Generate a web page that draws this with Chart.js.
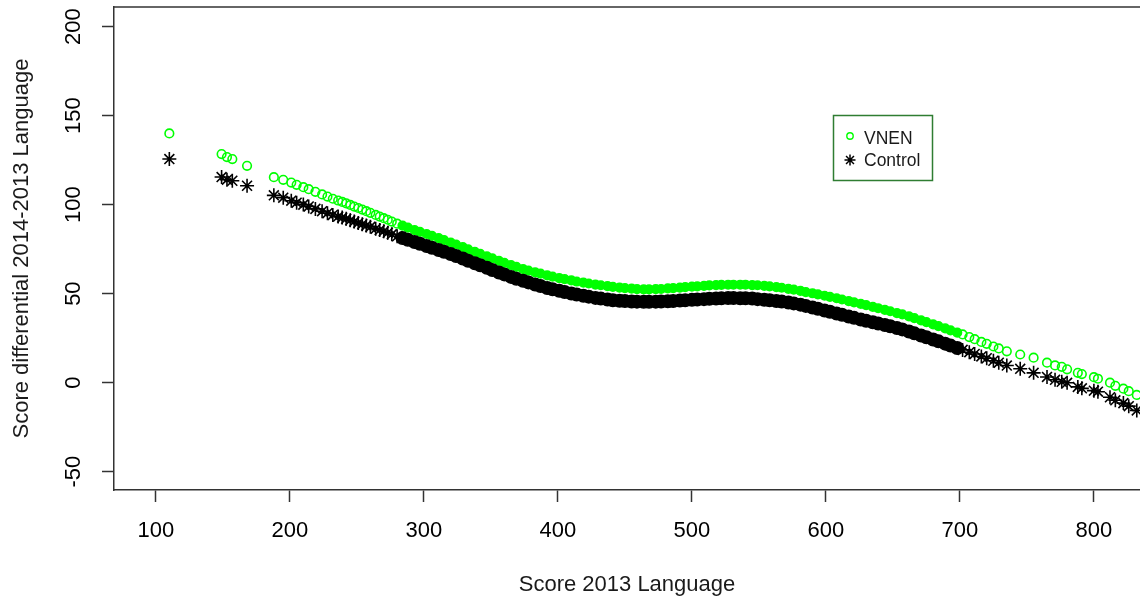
<!DOCTYPE html>
<html>
<head>
<meta charset="utf-8">
<script src="https://cdn.jsdelivr.net/npm/chart.js"></script>
<style>
  html, body { margin: 0; padding: 0; background: #fff; }
  #wrap { width: 1140px; height: 601px; }
</style>
</head>
<body>
<div id="wrap"><canvas id="graph1" width="1140" height="601"></canvas></div>
<script>
// Score 2013 (language) of each student, and the predicted 2014-2013 differential per group
var scores = [110, 149, 153, 157, 168, 188, 195, 201, 205, 210, 214, 219, 224, 228, 232, 236, 239, 242, 245, 248,
  251, 254, 257, 260, 264, 267, 270, 273, 276, 280,
  284, 288, 293, 297, 302, 306, 311, 315, 320, 324, 329, 333, 338, 342, 347, 351, 356, 360, 365, 369,
  374, 378, 383, 387, 392, 396, 401, 405, 410, 414, 419, 423, 428, 432, 437, 441, 446, 450, 455, 459,
  464, 468, 473, 477, 482, 486, 491, 495, 500, 504, 509, 513, 518, 522, 527, 531, 536, 540, 545, 549,
  554, 558, 563, 567, 572, 576, 581, 585, 590, 594, 599, 603, 608, 612, 617, 621, 626, 630, 635, 639,
  644, 648, 653, 657, 662, 666, 671, 675, 680, 684, 689, 693, 698, 702, 707, 711, 716, 720, 725, 729,
  735, 745, 755, 765, 771, 776, 780, 788, 791, 800, 803, 812, 816, 822, 826, 832];

var vnen = [140.0, 128.4, 126.7, 125.6, 121.8, 115.4, 113.9, 112.4, 111.1, 109.8, 108.7, 107.2, 105.7, 104.5, 103.3, 102.3, 101.5, 100.7, 99.8, 98.9,
  98.1, 97.2, 96.3, 95.4, 94.2, 93.3, 92.4, 91.5, 90.5, 89.3,
  88.2, 87.1, 85.7, 84.7, 83.5, 82.4, 81.2, 80.1, 78.7, 77.6, 76.1, 74.9, 73.5, 72.3, 70.9, 69.8, 68.4, 67.3, 66.0, 65.0,
  63.8, 62.9, 61.9, 61.2, 60.2, 59.5, 58.7, 58.1, 57.4, 56.8, 56.2, 55.7, 55.1, 54.7, 54.2, 53.8, 53.4, 53.1, 52.8, 52.5,
  52.4, 52.4, 52.5, 52.6, 52.9, 53.1, 53.4, 53.6, 53.9, 54.1, 54.4, 54.6, 54.8, 54.9, 55.0, 55.0, 55.0, 55.0, 54.8, 54.7,
  54.4, 54.1, 53.7, 53.3, 52.7, 52.2, 51.5, 50.9, 50.2, 49.6, 48.8, 48.2, 47.4, 46.7, 45.8, 45.1, 44.3, 43.5, 42.6, 41.8,
  40.9, 40.1, 39.1, 38.3, 37.2, 36.2, 35.0, 34.0, 32.7, 31.7, 30.5, 29.4, 28.1, 27.1, 25.6, 24.4, 22.9, 21.8, 20.3, 19.2,
  17.6, 15.8, 14.0, 11.2, 9.7, 8.9, 7.5, 5.5, 4.8, 3.1, 2.2, 0.0, -1.8, -3.4, -4.8, -6.9];

var control = [125.6, 115.5, 114.0, 113.4, 110.6, 105.2, 103.9, 102.2, 101.1, 100.0, 99.0, 97.6, 96.3, 95.2, 94.2, 93.3, 92.7, 92.0, 91.2, 90.5,
  89.7, 89.0, 88.2, 87.5, 86.5, 85.7, 85.0, 84.2, 83.3, 82.2,
  81.2, 80.2, 79.0, 78.0, 76.7, 75.8, 74.5, 73.5, 72.2, 71.1, 69.7, 68.5, 67.1, 65.9, 64.5, 63.3, 61.9, 60.8, 59.4, 58.3,
  57.2, 56.3, 55.1, 54.3, 53.2, 52.5, 51.6, 50.9, 50.1, 49.5, 48.8, 48.3, 47.6, 47.2, 46.7, 46.3, 46.0, 45.8, 45.6, 45.5,
  45.4, 45.4, 45.5, 45.6, 45.7, 45.9, 46.1, 46.3, 46.5, 46.7, 46.9, 47.1, 47.3, 47.4, 47.5, 47.5, 47.4, 47.4, 47.2, 46.9,
  46.6, 46.3, 45.9, 45.6, 45.0, 44.5, 43.8, 43.1, 42.2, 41.5, 40.5, 39.8, 38.8, 38.1, 37.1, 36.4, 35.5, 34.8, 33.9, 33.2,
  32.4, 31.7, 30.7, 29.9, 28.7, 27.7, 26.5, 25.5, 24.2, 23.2, 21.9, 20.8, 19.5, 18.4, 17.1, 16.1, 14.7, 13.7, 12.3, 11.2,
  9.6, 7.8, 5.5, 3.2, 1.6, 0.5, -0.1, -2.4, -3.2, -4.5, -5.1, -8.2, -9.9, -11.5, -13.2, -15.6];

var xTicks = [100, 200, 300, 400, 500, 600, 700, 800];
var yTicks = [-50, 0, 50, 100, 150, 200];
var legendLabels = ['VNEN', 'Control'];

var green = '#00ff00';
var axisColor = '#333333';
var font = "'Liberation Sans', Arial, sans-serif";

// where the students are packed so tight that the marks merge into a band
function dense(c) {
  return c.raw && c.raw.x >= 282 && c.raw.x <= 700;
}

function toPoints(ys) {
  return scores.map(function (s, i) { return { x: s, y: ys[i] }; });
}

// R style box: only top line left to draw, left/bottom come from the axes
const boxAndLegend = {
  id: 'boxAndLegend',
  afterDraw: function (chart) {
    var ctx = chart.ctx;
    var a = chart.chartArea;
    ctx.save();
    ctx.strokeStyle = axisColor;
    ctx.lineWidth = 1.5;
    ctx.beginPath();
    ctx.moveTo(a.left, a.top);
    ctx.lineTo(a.right, a.top);
    ctx.stroke();

    // legend box
    ctx.strokeStyle = '#2f7d32';
    ctx.lineWidth = 1.5;
    ctx.strokeRect(833.5, 115.5, 99, 65);

    ctx.strokeStyle = green;
    ctx.lineWidth = 1.4;
    ctx.beginPath();
    ctx.arc(850, 136, 3.2, 0, Math.PI * 2);
    ctx.stroke();

    ctx.strokeStyle = '#000';
    ctx.lineWidth = 1.5;
    ctx.beginPath();
    var r = 5.5, d = r * 0.72;
    ctx.moveTo(850 - r, 160); ctx.lineTo(850 + r, 160);
    ctx.moveTo(850, 160 - r); ctx.lineTo(850, 160 + r);
    ctx.moveTo(850 - d, 160 - d); ctx.lineTo(850 + d, 160 + d);
    ctx.moveTo(850 - d, 160 + d); ctx.lineTo(850 + d, 160 - d);
    ctx.stroke();

    ctx.fillStyle = '#1a1a1a';
    ctx.font = '17.5px ' + font;
    ctx.textBaseline = 'middle';
    ctx.textAlign = 'left';
    ctx.fillText(legendLabels[0], 864, 139);
    ctx.fillText(legendLabels[1], 864, 161);
    ctx.restore();
  }
};

const config = {
  type: 'scatter',
  data: {
    datasets: [
      {
        label: legendLabels[1],
        data: toPoints(control),
        pointStyle: function (c) { return dense(c) ? 'circle' : 'star'; },
        pointRadius: function (c) { return dense(c) ? 6.2 : 7; },
        pointBorderWidth: 1.6,
        pointBorderColor: '#000',
        pointBackgroundColor: '#000'
      },
      {
        label: legendLabels[0],
        data: toPoints(vnen),
        pointStyle: 'circle',
        pointRadius: 4.3,
        pointBorderWidth: 1.6,
        pointBorderColor: green,
        pointBackgroundColor: function (c) { return dense(c) ? green : 'rgba(0,0,0,0)'; }
      }
    ]
  },
  options: {
    responsive: false,
    animation: false,
    events: [],
    layout: { autoPadding: false, padding: { top: 7, right: 0, bottom: 0, left: 0 } },
    plugins: {
      legend: { display: false },
      tooltip: { enabled: false }
    },
    scales: {
      x: {
        type: 'linear',
        min: 68.7,
        max: 834.4,
        afterBuildTicks: function (s) { s.ticks = xTicks.map(function (v) { return { value: v }; }); },
        afterFit: function (s) {
          s.height = 111;
          s.paddingLeft = 0;
          s.paddingRight = 0;
        },
        grid: { drawOnChartArea: false, drawTicks: true, tickLength: 12, tickColor: axisColor, tickWidth: 1.5 },
        border: { display: true, color: axisColor, width: 1.5 },
        ticks: { color: '#000', padding: 16, font: { family: font, size: 22 } },
        title: {
          display: true,
          text: 'Score 2013 Language',
          color: '#1a1a1a',
          font: { family: font, size: 22 },
          padding: { top: 0, bottom: 3 }
        }
      },
      y: {
        type: 'linear',
        min: -60.3,
        max: 211.0,
        afterBuildTicks: function (s) { s.ticks = yTicks.map(function (v) { return { value: v }; }); },
        afterFit: function (s) {
          s.width = 114;
          s.paddingTop = 0;
          s.paddingBottom = 0;
        },
        grid: { drawOnChartArea: false, drawTicks: true, tickLength: 12, tickColor: axisColor, tickWidth: 1.5 },
        border: { display: true, color: axisColor, width: 1.5 },
        ticks: {
          color: '#000',
          padding: 9.5,
          minRotation: 90,
          maxRotation: 90,
          crossAlign: 'center',
          font: { family: font, size: 22 }
        },
        title: {
          display: true,
          text: 'Score differential 2014-2013 Language',
          color: '#1a1a1a',
          font: { family: font, size: 22 },
          padding: { top: 9, bottom: 0 }
        }
      }
    }
  },
  plugins: [boxAndLegend]
};

var myChart = new Chart(document.getElementById('graph1'), config);
</script>
</body>
</html>
